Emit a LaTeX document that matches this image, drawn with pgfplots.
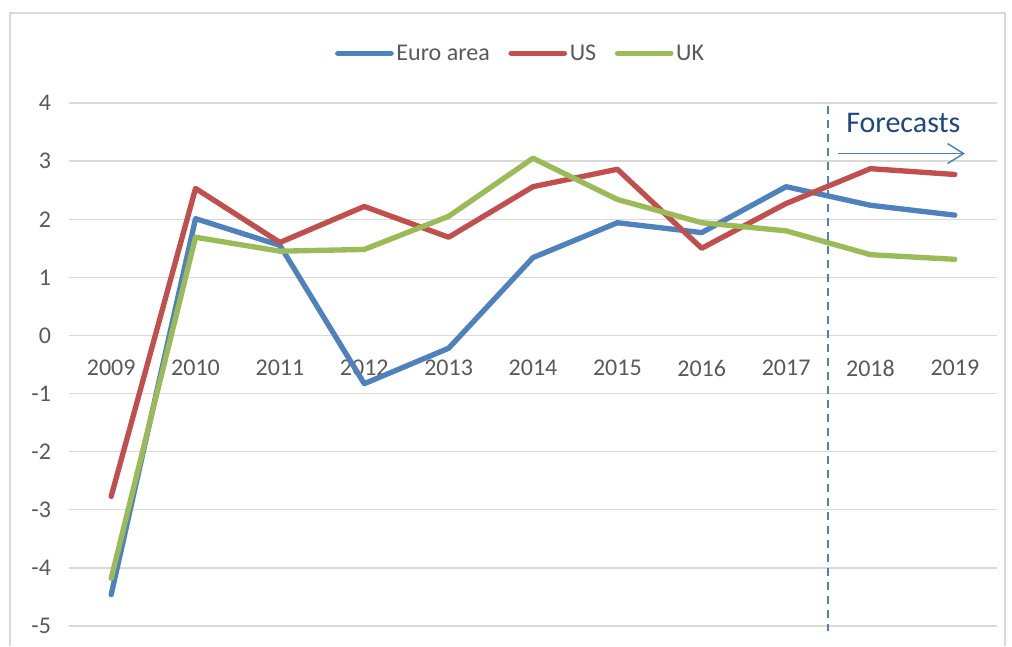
\documentclass[border=0pt]{standalone}
\usepackage{fontspec}
\setmainfont{Carlito}
\usepackage{pgfplots}
\pgfplotsset{compat=1.18}
\usetikzlibrary{arrows.meta}
\definecolor{cblue}{HTML}{4F81BD}
\definecolor{cred}{HTML}{C0504D}
\definecolor{cgreen}{HTML}{9BBB59}
\definecolor{ctick}{HTML}{595959}
\definecolor{cgrid}{HTML}{D9D9D9}
\definecolor{cdark}{HTML}{1F497D}
\begin{document}
\begin{tikzpicture}
\path[use as bounding box] (0pt,0pt) rectangle (759pt,484.5pt);
\draw[color=cgrid, line width=0.8pt] (7.5pt,0pt) -- (7.5pt,474.75pt) -- (753.75pt,474.75pt) -- (753.75pt,0pt);
\begin{axis}[
  at={(51.75pt,15pt)}, anchor=south west,
  scale only axis, width=696pt, height=392.25pt,
  xmin=-0.5, xmax=10.5, ymin=-5, ymax=4,
  axis x line*=middle, axis y line*=left,
  axis line style={draw=none},
  major tick style={draw=none},
  xtick={0,...,10},
  xticklabels={2009,2010,2011,2012,2013,2014,2015,2016,2017,2018,2019},
  ytick={-5,-4,-3,-2,-1,0,1,2,3,4},
  yticklabels={-5,-4,-3,-2,-1,0,1,2,3,4},
  ymajorgrids=true,
  grid style={color=cgrid, line width=1pt},
  ticklabel style={font=\fontsize{18}{20}\selectfont, text=ctick},
  xticklabel style={anchor=north, yshift=-15pt},
  yticklabel style={anchor=east, xshift=-10pt},
  clip=false,
  legend columns=3,
  legend style={at={(0.487,1.095)}, anchor=center, draw=none, fill=none,
    font=\fontsize{18}{20}\selectfont, text=ctick,
    /tikz/every even column/.append style={column sep=12pt}},
  legend image code/.code={\draw[#1, line cap=round] (0pt,0pt) -- (40pt,0pt);},
]
\addplot[cblue, line width=4pt, line join=round, line cap=round] coordinates {
(0,-4.46) (1,2.01) (2,1.55) (3,-0.83) (4,-0.22) (5,1.34) (6,1.94) (7,1.77) (8,2.56) (9,2.24) (10,2.07)};
\addlegendentry{Euro area}
\addplot[cred, line width=4pt, line join=round, line cap=round] coordinates {
(0,-2.77) (1,2.53) (2,1.60) (3,2.22) (4,1.69) (5,2.56) (6,2.86) (7,1.50) (8,2.27) (9,2.87) (10,2.77)};
\addlegendentry{US}
\addplot[cgreen, line width=4pt, line join=round, line cap=round] coordinates {
(0,-4.18) (1,1.69) (2,1.45) (3,1.48) (4,2.05) (5,3.05) (6,2.34) (7,1.94) (8,1.80) (9,1.39) (10,1.31)};
\addlegendentry{UK}
\draw[cblue, line width=1.5pt, dash pattern=on 5.75pt off 4.75pt] (axis cs:8.5,3.95) -- (axis cs:8.5,-5.08);
\node[text=cdark, font=\fontsize{22.5}{24}\selectfont] at (axis cs:9.39,3.65) {Forecasts};
\draw[cblue, line width=1.1pt, -{Straight Barb[length=12pt,width=15pt,line width=1.1pt]}] (axis cs:8.62,3.13) -- (axis cs:10.12,3.13);
\end{axis}
\end{tikzpicture}
\end{document}
